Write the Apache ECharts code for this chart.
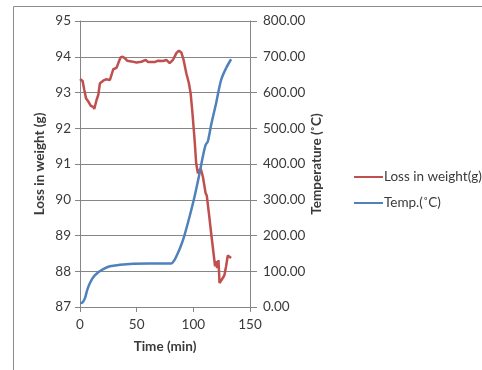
<!DOCTYPE html>
<html><head><meta charset="utf-8">
<script src="https://cdn.jsdelivr.net/npm/echarts@6/dist/echarts.min.js"></script>
<style>html,body{margin:0;padding:0;background:#fff}#c{width:482px;height:370px}</style>
</head><body><div id="c"></div>
<script>
const weightTime = [0,2.3,3.8,5.3,7.3,9.4,11.7,12.6,14.6,16.1,17.6,20.5,22.9,26.4,27.8,29.3,32.2,33.7,35.7,37.5,39.5,41.6,45.4,46.9,49.8,54.2,58.0,60.1,65.9,68.9,73.2,76.2,79.1,82.0,85.0,87.3,89.4,91.4,93.8,96.1,97.6,99.0,101.1,102.5,104.0,106.4,108.4,110.8,111.9,113.7,115.7,117.8,119.2,120.1,121.0,122.2,123.1,124.5,126.0,127.5,128.9,130.4,131.8,133.3];
const weightValue = [93.38,93.32,93.07,92.84,92.75,92.63,92.6,92.54,92.79,92.93,93.26,93.33,93.37,93.35,93.49,93.65,93.69,93.74,93.98,94.0,93.96,93.89,93.87,93.82,93.84,93.86,93.91,93.85,93.85,93.89,93.88,93.91,93.82,93.91,94.1,94.17,94.12,93.91,93.54,93.26,92.98,92.51,91.68,91.02,90.74,90.88,90.65,90.19,90.11,89.63,89.07,88.51,88.14,88.28,88.09,88.31,87.67,87.65,87.81,87.9,88.14,88.44,88.42,88.37];
const tempTime = [0,2.3,4.4,6.4,8.8,11.7,16.1,20.5,26.4,35.2,46.9,61.5,80.6,83.5,86.4,89.4,92.3,96.7,101.1,105.5,108.4,110.8,112.8,115.7,120.1,124.5,128.9,133.3];
const tempValue = [11,13,25,48,67,83,97,106,114,118,121,122,122,132,151,174,202,253,309,374,421,453,463,509,570,635,668,693];
const seriesNames = ['Loss in weight(g)','Temp.(˚C)'];
const xName = 'Time (min)', yLeftName = 'Loss in weight (g)', yRightName = 'Temperature (˚C)';

const FONT = 'Lato, "Open Sans", sans-serif';
const axisColor = '#868686';
const txt = '#3a3a3a';
const chart = echarts.init(document.getElementById('c'));
chart.setOption({
  animation:false,
  textStyle:{fontFamily:FONT},
  graphic:[{type:'rect',shape:{x:13.5,y:6.5,width:500,height:400},style:{fill:'none',stroke:'#8c8c8c',lineWidth:1}}],
  grid:{left:80,right:232,top:21,bottom:63},
  legend:{
    orient:'vertical', left:349, top:165, itemWidth:29, itemHeight:2, itemGap:12,
    icon:'rect',
    textStyle:{fontFamily:FONT,fontSize:13.5,color:txt,padding:[0,0,0,-4]},
    data:seriesNames
  },
  xAxis:{
    type:'value',min:0,max:150,interval:50,
    name:xName,nameLocation:'middle',nameGap:33,
    nameTextStyle:{fontFamily:FONT,fontWeight:'bold',fontSize:13.5,color:txt},
    axisLine:{show:true,lineStyle:{color:axisColor}},
    axisTick:{show:true,length:5,lineStyle:{color:axisColor}},
    axisLabel:{fontFamily:FONT,fontSize:13.5,color:txt,margin:11},
    splitLine:{show:false}
  },
  yAxis:[{
    type:'value',min:87,max:95,interval:1,position:'left',
    name:yLeftName,nameLocation:'middle',nameGap:33,nameRotate:90,
    nameTextStyle:{fontFamily:FONT,fontWeight:'bold',fontSize:13.5,color:txt},
    axisLine:{show:true,lineStyle:{color:axisColor}},
    axisTick:{show:true,length:5,lineStyle:{color:axisColor}},
    axisLabel:{fontFamily:FONT,fontSize:13.5,color:txt,margin:9},
    splitLine:{show:true,lineStyle:{color:axisColor,width:1}}
  },{
    type:'value',min:0,max:800,interval:100,position:'right',
    name:yRightName,nameLocation:'middle',nameGap:60,nameRotate:90,
    nameTextStyle:{fontFamily:FONT,fontWeight:'bold',fontSize:13.5,color:txt},
    axisLine:{show:true,lineStyle:{color:axisColor}},
    axisTick:{show:true,length:7,lineStyle:{color:axisColor}},
    axisLabel:{fontFamily:FONT,fontSize:13.5,color:txt,margin:13,formatter:v=>v.toFixed(2)},
    splitLine:{show:false}
  }],
  series:[{
    name:seriesNames[0],type:'line',yAxisIndex:0,showSymbol:false,symbol:'none',
    lineStyle:{color:'#C0504D',width:2.5},itemStyle:{color:'#C0504D'},
    data:weightTime.map((t,i)=>[t,weightValue[i]])
  },{
    name:seriesNames[1],type:'line',yAxisIndex:1,showSymbol:false,symbol:'none',smooth:0.3,
    lineStyle:{color:'#4F81BD',width:2.5},itemStyle:{color:'#4F81BD'},
    data:tempTime.map((t,i)=>[t,tempValue[i]])
  }]
});
</script></body></html>
